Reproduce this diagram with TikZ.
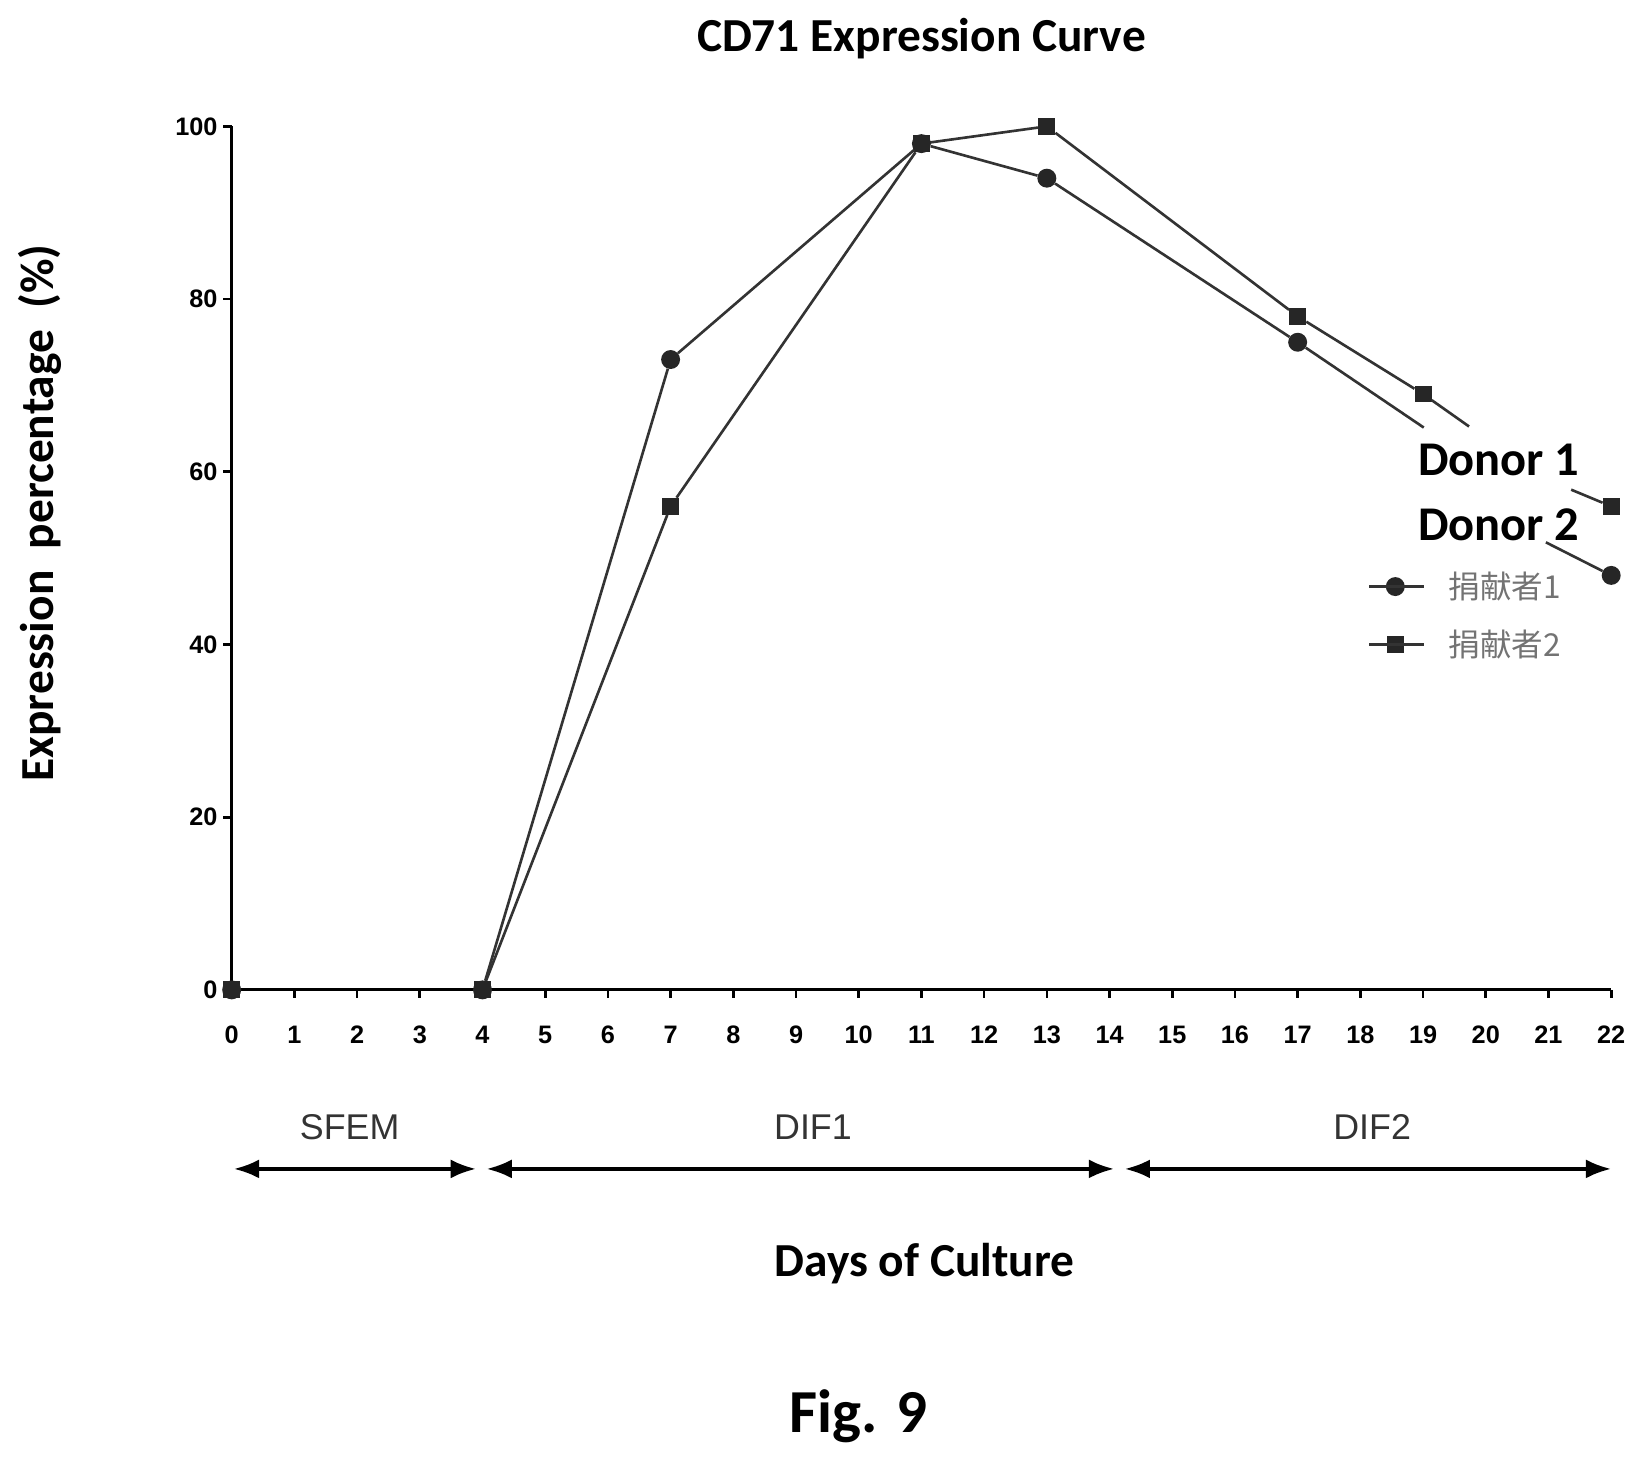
\documentclass[tikz,border=0pt]{standalone}
\usepackage{fontspec}
\setmainfont{Liberation Sans}
\newfontfamily\carlfont{Carlito}
\newfontfamily\cjkfont{Noto Sans CJK SC}
\usetikzlibrary{arrows.meta}
\begin{document}
\begin{tikzpicture}[x=1pt,y=-1pt,
 ln/.style={line width=2.5pt,black!80},
 circ/.style={circle,fill=black!85,inner sep=0pt,minimum size=18pt},
 sq/.style={rectangle,fill=black!85,inner sep=0pt,minimum size=16pt},
 tk/.style={font=\bfseries\fontsize{24}{26}\selectfont},
 bigt/.style={font=\carlfont\bfseries\fontsize{45}{48}\selectfont},
 ph/.style={line width=3.5pt,{Latex[length=24pt,width=18pt]}-{Latex[length=24pt,width=18pt]}}]
\useasboundingbox (0,0) rectangle (1564,1388);
\def\X#1{220+59.545*#1}
\def\Y#1{940-8.2*#1}
% axes
\draw[line width=3pt] (220,120) -- (220,940) -- (1530,940);
\foreach \v in {0,20,...,100}{\draw[line width=2.5pt] (212,{\Y{\v}}) -- (220,{\Y{\v}});
 \node[tk,anchor=east] at (210,{\Y{\v}}) {\v};}
\foreach \d in {0,...,22}{\draw[line width=2.5pt] ({\X{\d}},940) -- ({\X{\d}},948);
 \node[tk] at ({\X{\d}},983) {\d};}
% donor 2 (squares)
\node[sq] (b4) at ({\X{4}},{\Y{0}}) {};
\node[sq] (b0) at ({\X{0}},{\Y{0}}) {};
\node[sq] (b7) at ({\X{7}},{\Y{56}}) {};
\node[sq] (b11) at ({\X{11}},{\Y{98}}) {};
\node[sq] (b13) at ({\X{13}},{\Y{100}}) {};
\node[sq] (b17) at ({\X{17}},{\Y{78}}) {};
\node[sq] (b19) at ({\X{19}},{\Y{69}}) {};
\node[sq] (b22) at ({\X{22}},{\Y{56}}) {};
\coordinate (be) at (1395,405); \coordinate (bs) at (1492,465);
\draw[ln] (b4) -- (b7) -- (b11) -- (b13) -- (b17) -- (b19) -- (be);
\draw[ln] (bs) -- (b22);
% donor 1 (circles)
\node[circ] (a0) at ({\X{0}},{\Y{0}}) {};
\node[circ] (a4) at ({\X{4}},{\Y{0}}) {};
\node[circ] (a7) at ({\X{7}},{\Y{73}}) {};
\node[circ] (a11) at ({\X{11}},{\Y{98}}) {};
\node[circ] (a13) at ({\X{13}},{\Y{94}}) {};
\node[circ] (a17) at ({\X{17}},{\Y{75}}) {};
\node[circ] (a22) at ({\X{22}},{\Y{48}}) {};
\coordinate (ae) at (1352,406); \coordinate (as) at (1468,515);
\draw[ln] (a4) -- (a7) -- (a11) -- (a13) -- (a17) -- (ae);
\draw[ln] (as) -- (a22);
% labels
\node[font=\carlfont\bfseries\fontsize{46}{48}\selectfont,anchor=west] at (1343,437) {Donor 1};
\node[font=\carlfont\bfseries\fontsize{46}{48}\selectfont,anchor=west] at (1343,498) {Donor 2};
% legend
\node[circ] (l1) at (1325,557) {}; \draw[ln] (1300,557) -- (1352,557);
\node[sq] (l2) at (1325,612) {}; \draw[ln] (1300,612) -- (1352,612);
\node[font=\cjkfont\fontsize{30}{32}\selectfont,black!55,anchor=west] at (1372,557) {捐献者1};
\node[font=\cjkfont\fontsize{30}{32}\selectfont,black!55,anchor=west] at (1372,612) {捐献者2};
% phases
\draw[ph] (222,1110) -- (452,1110);
\draw[ph] (462,1110) -- (1058,1110);
\draw[ph] (1068,1110) -- (1530,1110);
\node[font=\fontsize{34}{36}\selectfont,black!80] at (332,1070) {SFEM};
\node[font=\fontsize{34}{36}\selectfont,black!80] at (772,1070) {DIF1};
\node[font=\fontsize{34}{36}\selectfont,black!80] at (1303,1070) {DIF2};
% titles
\node[bigt] at (875,37) {CD71 Expression Curve};
\node[bigt] at (878,1200) {Days of Culture};
\node[bigt,rotate=90] at (38,487) {Expression\ \ percentage\ \ (\%)};
\node[font=\carlfont\bfseries\fontsize{58}{62}\selectfont] at (815,1345) {Fig. 9};
\end{tikzpicture}
\end{document}
